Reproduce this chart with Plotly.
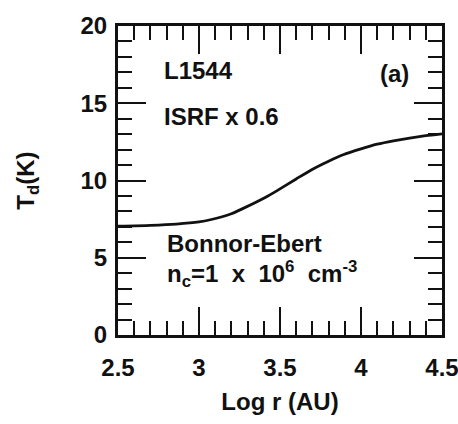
import plotly.graph_objects as go

# Dust temperature profile of a Bonnor-Ebert sphere (L1544, ISRF scaled by 0.6)
log_r = [2.5, 2.7, 2.86, 3.0, 3.07, 3.2, 3.27, 3.4, 3.48, 3.6, 3.69, 3.8,
         3.89, 4.0, 4.1, 4.2, 4.3, 4.4, 4.5]
t_dust = [7.05, 7.1, 7.18, 7.32, 7.46, 7.85, 8.18, 8.85, 9.33, 10.1, 10.67,
          11.25, 11.67, 12.05, 12.35, 12.57, 12.75, 12.9, 13.02]

x_ticks = [2.5, 3, 3.5, 4, 4.5]
x_tick_text = ["2.5", "3", "3.5", "4", "4.5"]
y_ticks = [0, 5, 10, 15, 20]
y_tick_text = ["0", "5", "10", "15", "20"]

FONT = "Liberation Sans, Arial, Helvetica, sans-serif"
INK = "#111111"

fig = go.Figure()
fig.add_trace(go.Scatter(
    x=log_r, y=t_dust, mode="lines",
    line=dict(color=INK, width=2.8, shape="spline", smoothing=0.6),
    showlegend=False, hoverinfo="skip",
))

axis_common = dict(
    showgrid=False, zeroline=False,
    showline=True, linecolor=INK, linewidth=3, mirror="ticks",
    ticks="inside", tickcolor=INK, tickwidth=2,
    tickfont=dict(family=FONT, size=24, color=INK, weight="bold"),
)

fig.update_xaxes(
    range=[2.5, 4.5], tickvals=x_ticks, ticktext=x_tick_text,
    ticklen=28, ticklabelstandoff=9, ticklabeloverflow="allow",
    automargin="bottom",
    minor=dict(dtick=0.1, tick0=2.5, ticks="inside", ticklen=14,
               tickwidth=2, tickcolor=INK),
    title=dict(text="Log r (AU)", standoff=14,
               font=dict(family=FONT, size=24, color=INK, weight="bold")),
    **axis_common,
)
fig.update_yaxes(
    range=[0, 20], tickvals=y_ticks, ticktext=y_tick_text,
    ticklen=28, ticklabelstandoff=3,
    minor=dict(dtick=1, tick0=0, ticks="inside", ticklen=14,
               tickwidth=2, tickcolor=INK),
    title=dict(text="T<sub>d</sub>(K)", standoff=40,
               font=dict(family=FONT, size=24, color=INK, weight="bold")),
    **axis_common,
)

text_font = dict(family=FONT, size=24, color=INK, weight="bold")
labels = [
    ("L1544", 2.772, 17.15, "left"),
    ("ISRF x 0.6", 2.772, 14.15, "left"),
    ("(a)", 4.204, 16.9, "center"),
    ("Bonnor-Ebert", 2.79, 5.95, "left"),
    ("n<sub>c</sub>=1\u00a0 x\u00a0 10<sup>6</sup>\u00a0 cm<sup>-3</sup>", 2.79, 3.95, "left"),
]
for text, x, y, anchor in labels:
    fig.add_annotation(x=x, y=y, xref="x", yref="y", text=text,
                       showarrow=False, xanchor=anchor, yanchor="middle",
                       font=text_font)

fig.update_layout(
    width=458, height=424,
    margin=dict(l=118, r=16, t=17, b=86),
    paper_bgcolor="white", plot_bgcolor="white",
)

fig.write_html("out.html")
